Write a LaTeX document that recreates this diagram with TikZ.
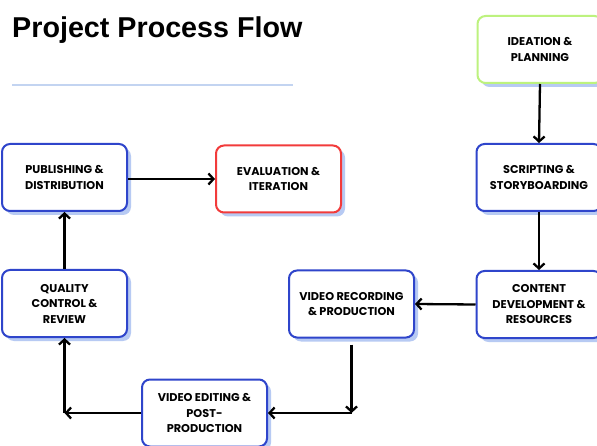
\documentclass[tikz,border=0pt]{standalone}
\usepackage{fontspec}
\setmainfont{Liberation Sans}
\newfontfamily\boxfont{Poppins}
\usetikzlibrary{arrows.meta,positioning,shadows}
\definecolor{stageblue}{HTML}{2F45CB}
\definecolor{stageshade}{HTML}{B7CAF3}
\definecolor{ideagreen}{HTML}{BDF27E}
\definecolor{evalred}{HTML}{F23B3B}
\definecolor{ruleblue}{HTML}{C3D4F1}
\tikzset{
  stage/.style={draw=stageblue, line width=2pt, fill=white, rounded corners=8pt,
    minimum width=125pt, minimum height=67pt, align=center,
    font=\boxfont\bfseries\fontsize{11.3}{15.5}\selectfont,
    drop shadow={shadow xshift=4pt, shadow yshift=-4pt, fill=stageshade, opacity=1}},
  flow/.style={line width=2.3pt, -{Straight Barb[length=5pt,width=11pt,line width=2.3pt]}}
}
\begin{document}
\begin{tikzpicture}[x=1pt,y=-1pt]
\useasboundingbox (0,0) rectangle (597,446);
\fill[white] (0,0) rectangle (597,446);

% heading
\node[anchor=base west,font=\bfseries\fontsize{28.7}{34}\selectfont,inner sep=0pt] (title) at (12,38) {Project Process Flow};
\draw[ruleblue, line width=2.5pt] (12,85) -- (293,85);

% stages
\node[stage, draw=ideagreen] (idea) at (540,49.5) {IDEATION \&\\PLANNING};
\node[stage] (script) at (539,177.5) {SCRIPTING \&\\STORYBOARDING};
\node[stage] (content) at (539,304.5) {CONTENT\\DEVELOPMENT \&\\RESOURCES};
\node[stage] (vrec) at (351.5,304) {VIDEO RECORDING\\\& PRODUCTION};
\node[stage] (edit) at (204.5,413) {VIDEO EDITING \&\\POST-\\PRODUCTION};
\node[stage] (quality) at (64.5,303.5) {QUALITY\\CONTROL \&\\REVIEW};
\node[stage] (publish) at (64.5,177.5) {PUBLISHING \&\\DISTRIBUTION};
\node[stage, draw=evalred] (eval) at (278.5,179) {EVALUATION \&\\ITERATION};

% corners of the elbow links
\coordinate (c1) at (vrec.south |- edit.east);
\coordinate (c2) at (quality.south |- edit.west);

% links
\draw[flow] (idea.south) -- (script.north);
\draw[flow] (script.south) -- (content.north);
\draw[flow] (content.west) -- (vrec.east);
\draw[flow] ([yshift=-6pt]vrec.south) -- (c1);
\draw[flow] (c1) -- (edit.east);
\draw[flow] (edit.west) -- (c2);
\draw[flow] (c2) -- (quality.south);
\draw[flow] (quality.north) -- (publish.south);
\draw[flow] (publish.east |- eval.west) -- (eval.west);
\end{tikzpicture}
\end{document}
